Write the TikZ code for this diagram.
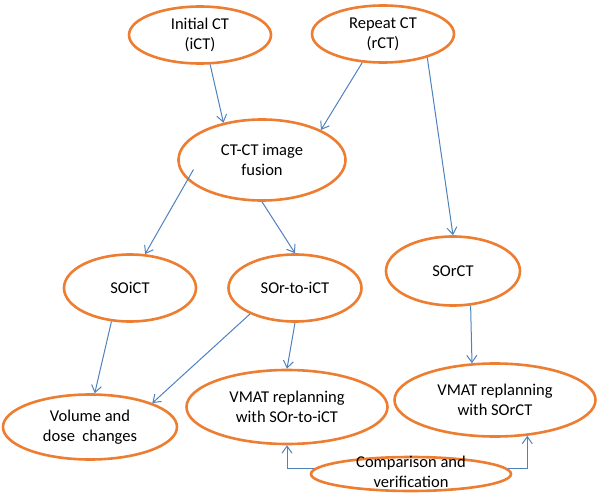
\documentclass[tikz,border=0pt]{standalone}
\usepackage{fontspec}
\setmainfont{Carlito}
\usetikzlibrary{shapes.geometric,arrows.meta}
\definecolor{ovalorange}{RGB}{237,125,49}
\definecolor{linkblue}{RGB}{79,129,189}
\tikzset{
  oval/.style={ellipse, draw=ovalorange, line width=2.6pt, inner sep=0pt,
    align=center, font=\fontsize{16.5}{20}\selectfont},
  ovaltext/.style={inner sep=0pt, align=center, font=\fontsize{16.5}{20}\selectfont},
  link/.style={draw=linkblue, line width=1pt, -{Straight Barb[length=7pt,width=10pt]}}
}
\begin{document}
\begin{tikzpicture}[x=1pt,y=-1pt]
  \useasboundingbox (0,0) rectangle (600,495);
  \draw
    (200,35) node[oval, minimum width=142pt, minimum height=57pt] (ict) {Initial CT\\(iCT)}
    (383,34) node[oval, minimum width=142pt, minimum height=57pt] (rct) {Repeat CT\\(rCT)}
    (262,160) node[oval, minimum width=167pt, minimum height=81pt] (fusion) {CT-CT image\\fusion}
    (130,288) node[oval, minimum width=132pt, minimum height=67pt] (soict) {SOiCT}
    (295,288) node[oval, minimum width=133pt, minimum height=67pt] (sorict) {SOr-to-iCT}
    (453,271) node[oval, minimum width=134pt, minimum height=69pt] (sorct) {SOrCT}
    (90,427) node[oval, minimum width=174pt, minimum height=65pt] (vol) {Volume and\\dose\ \ changes}
    (287,407) node[oval, minimum width=201pt, minimum height=74pt] (vmati) {VMAT replanning\\with SOr-to-iCT}
    (495,400) node[oval, minimum width=201pt, minimum height=73pt] (vmatr) {VMAT replanning\\with SOrCT}
    (411,474) node[oval, minimum width=200pt, minimum height=34pt] (cmp) {}
    (411,472) node[ovaltext] (cmptext) {Comparison and\\verification};
  \begin{scope}[link]
    \draw (ict.-71) to (fusion.136);
    \draw (rct.-126) to (fusion.27);
    \draw (rct.-28) to (sorct.north);
    \draw[shorten <=-12pt] (fusion.-165) to (soict.66);
    \draw (fusion.south) to (sorict.north);
    \draw (soict.-119) to (vol.82);
    \draw (sorict.-150) to (vol.21);
    \draw (sorict.south) to (vmati.north);
    \draw (sorct.-63) to (vmatr.122);
    \draw (cmp.177) -| (vmati.south);
    \draw (cmp.3) -| (vmatr.-48);
  \end{scope}
\end{tikzpicture}
\end{document}
